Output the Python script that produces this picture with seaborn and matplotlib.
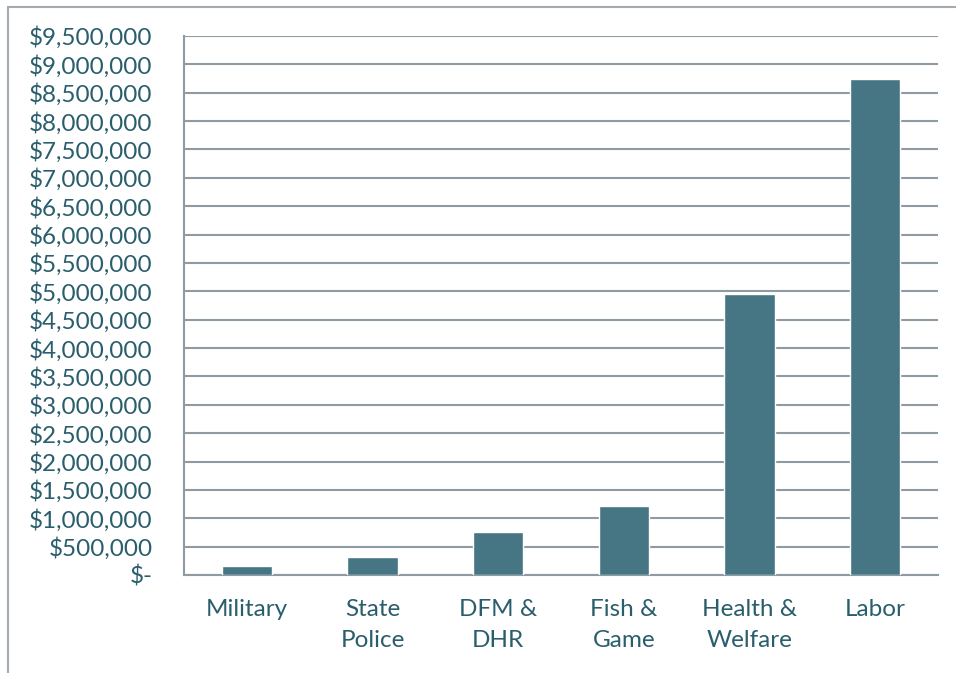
import matplotlib.pyplot as plt
import matplotlib.ticker as mticker
import pandas as pd
import seaborn as sns
from matplotlib.lines import Line2D

# data
categories = ["Military", "State\nPolice", "DFM &\nDHR", "Fish &\nGame", "Health &\nWelfare", "Labor"]
amounts = [158000, 322000, 763000, 1210000, 4945000, 8735000]
y_ticks = list(range(0, 9500001, 500000))

BAR_COLOR = "#467584"
GRID_COLOR = "#8E9BA2"
TEXT_COLOR = "#2A5E6C"

df = pd.DataFrame({"category": categories, "amount": amounts})

sns.set_style("white")
plt.rcParams["font.family"] = ["Lato", "DejaVu Sans"]

fig = plt.figure(figsize=(9.56, 6.73), dpi=100)
ax = fig.add_axes([184 / 956, 1 - 575 / 673, (938 - 184) / 956, (575 - 36) / 673])

sns.barplot(data=df, x="category", y="amount", color=BAR_COLOR, width=0.4,
            saturation=1, ax=ax, zorder=3)

ax.set_xlim(-0.5, len(categories) - 0.5)
ax.set_ylim(0, 9500000)
ax.set_yticks(y_ticks)


def money(v, pos):
    if v == 0:
        return "$-"
    return f"${v:,.0f}"


ax.yaxis.set_major_formatter(mticker.FuncFormatter(money))
ax.grid(axis="y", color=GRID_COLOR, linewidth=1.5, zorder=0)
ax.set_axisbelow(True)

# category boundaries get the tick marks
ax.set_xticks([i - 0.5 for i in range(len(categories) + 1)], minor=True)
ax.tick_params(axis="x", which="major", length=0, pad=17, labelsize=17.5, labelcolor=TEXT_COLOR)
ax.tick_params(axis="x", which="minor", length=6, width=1.5, color=GRID_COLOR, direction="out")
ax.tick_params(axis="y", length=6.5, width=1.5, color=GRID_COLOR, direction="out", pad=16,
               labelsize=17.5, labelcolor=TEXT_COLOR)
for lab in ax.get_xticklabels():
    lab.set_linespacing(1.6)

ax.set_xlabel("")
ax.set_ylabel("")
for side in ["top", "right"]:
    ax.spines[side].set_visible(False)
for side in ["left", "bottom"]:
    ax.spines[side].set_color(GRID_COLOR)
    ax.spines[side].set_linewidth(1.5)

# outer chart frame (left and top edges visible)
fig.add_artist(Line2D([8 / 956, 8 / 956], [0, 1 - 7 / 673], transform=fig.transFigure,
                      color="#A3ABB0", linewidth=1.5))
fig.add_artist(Line2D([8 / 956, 1], [1 - 7 / 673, 1 - 7 / 673], transform=fig.transFigure,
                      color="#A3ABB0", linewidth=1.5))

fig.savefig("out.png", dpi=100)
